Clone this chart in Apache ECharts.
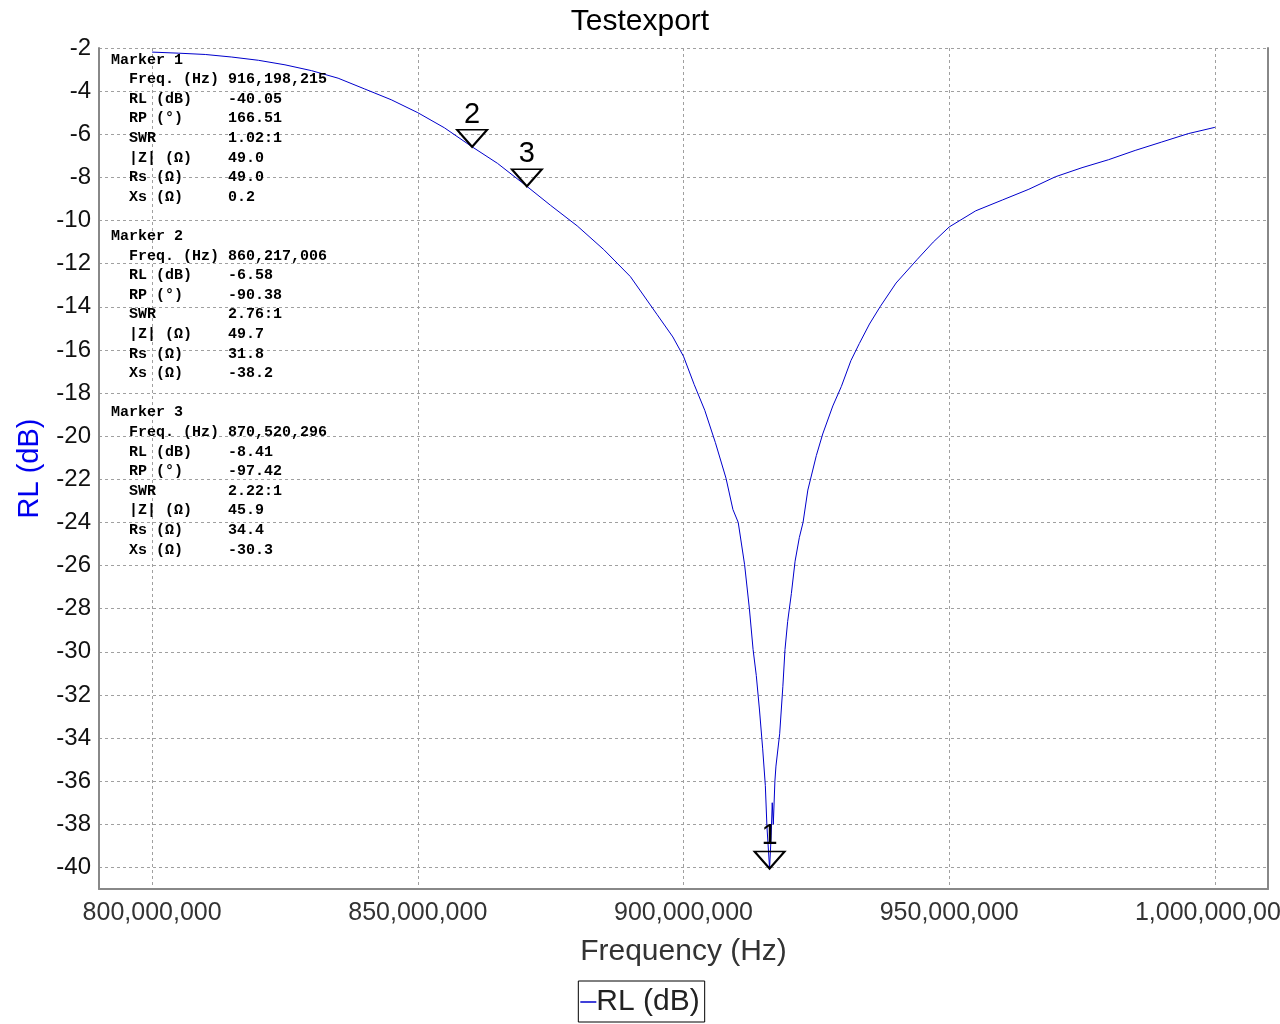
<!DOCTYPE html>
<html>
<head>
<meta charset="utf-8">
<script src="https://cdn.jsdelivr.net/npm/echarts@6/dist/echarts.min.js"></script>
<style>
html,body{margin:0;padding:0;background:#fff;}
#chart{width:1280px;height:1024px;}
</style>
</head>
<body>
<div id="chart"></div>
<script>
// Frequency (Hz) and return loss (dB)
const freqHz = [
  800.0e6, 805.0e6, 810.0e6, 815.0e6, 820.0e6, 825.0e6, 830.0e6, 835.0e6, 840.0e6, 845.0e6,
  850.0e6, 855.0e6, 860.2e6, 865.0e6, 870.5e6, 875.0e6, 880.0e6, 885.0e6, 890.0e6, 895.0e6,
  898.0e6, 900.0e6, 902.0e6, 904.0e6, 906.0e6, 908.0e6, 909.3e6, 910.3e6, 911.5e6, 912.4e6,
  913.1e6, 913.7e6, 914.3e6, 914.9e6, 915.4e6, 915.7e6, 916.2e6, 916.5e6, 916.7e6, 916.9e6,
  917.2e6, 917.4e6, 918.1e6, 918.7e6, 919.1e6, 919.6e6, 920.3e6, 921.0e6, 921.8e6, 922.5e6,
  923.4e6, 925.0e6, 926.2e6, 928.1e6, 929.7e6, 931.5e6, 933.1e6, 935.0e6, 937.0e6, 940.0e6,
  944.0e6, 947.0e6, 950.0e6, 955.0e6, 960.0e6, 965.0e6, 970.0e6, 975.0e6, 980.0e6, 985.0e6,
  990.0e6, 995.0e6, 1000.0e6
];
const rlDb = [
  -2.19, -2.24, -2.30, -2.42, -2.57, -2.78, -3.05, -3.40, -3.90, -4.40,
  -5.00, -5.70, -6.58, -7.35, -8.41, -9.30, -10.25, -11.35, -12.60, -14.35,
  -15.40, -16.30, -17.60, -18.80, -20.30, -21.95, -23.40, -24.00, -25.96, -28.00,
  -29.90, -31.10, -32.70, -34.50, -36.20, -38.10, -40.05, -38.50, -37.00, -38.00,
  -36.00, -35.30, -33.80, -31.60, -29.90, -28.60, -27.30, -25.80, -24.70, -24.00,
  -22.50, -20.90, -19.90, -18.60, -17.70, -16.50, -15.70, -14.80, -14.00, -12.90,
  -11.80, -11.00, -10.30, -9.55, -9.05, -8.55, -7.97, -7.55, -7.18, -6.75,
  -6.36, -5.97, -5.68
];

// Markers
const markerIds  = ['1', '2', '3'];
const markerFreq = [916198215, 860217006, 870520296];
const markerRL   = [-40.05, -6.58, -8.41];
const markerRP   = ['166.51', '-90.38', '-97.42'];
const markerSWR  = ['1.02:1', '2.76:1', '2.22:1'];
const markerZ    = ['49.0', '49.7', '45.9'];
const markerRs   = ['49.0', '31.8', '34.4'];
const markerXs   = ['0.2', '-38.2', '-30.3'];

// Axis tick labels
const xTickLabels = [800e6, 850e6, 900e6, 950e6, 1000e6];

function fmtThousands(n) {
  return String(Math.round(n)).replace(/\B(?=(\d{3})+(?!\d))/g, ',');
}

const lineData = freqHz.map((f, i) => [f, rlDb[i]]);
const markerData = markerFreq.map((f, i) => ({ value: [f, markerRL[i]], name: markerIds[i] }));

let infoLines = [];
for (let i = 0; i < markerIds.length; i++) {
  if (i > 0) infoLines.push('');
  infoLines.push('Marker ' + markerIds[i]);
  infoLines.push('  Freq. (Hz) ' + fmtThousands(markerFreq[i]));
  infoLines.push('  RL (dB)    ' + markerRL[i].toFixed(2));
  infoLines.push('  RP (\u00B0)     ' + markerRP[i]);
  infoLines.push('  SWR        ' + markerSWR[i]);
  infoLines.push('  |Z| (\u03A9)    ' + markerZ[i]);
  infoLines.push('  Rs (\u03A9)     ' + markerRs[i]);
  infoLines.push('  Xs (\u03A9)     ' + markerXs[i]);
}

const chart = echarts.init(document.getElementById('chart'), null, { renderer: 'canvas' });
const FONT = '"Liberation Sans", Arial, sans-serif';

chart.setOption({
  animation: false,
  backgroundColor: '#fff',
  title: {
    text: 'Testexport',
    left: 'center',
    top: 2,
    textStyle: { fontFamily: FONT, fontSize: 30, fontWeight: 'normal', color: '#000' }
  },
  grid: { left: 99, right: 12, top: 48, bottom: 135, containLabel: false, outerBoundsMode: 'none' },
  legend: {
    data: ['RL (dB)'],
    bottom: 2,
    left: 'center',
    borderColor: '#000',
    borderWidth: 1,
    padding: [6, 5, 5, 2],
    icon: 'rect',
    itemWidth: 16,
    itemHeight: 1.5,
    textStyle: { fontFamily: FONT, fontSize: 30, color: '#222', padding: [0, 0, 0, -5] }
  },
  xAxis: {
    type: 'value',
    min: 790e6,
    max: 1010e6,
    splitNumber: 5,
    name: 'Frequency (Hz)',
    nameLocation: 'middle',
    nameGap: 48,
    nameTextStyle: { fontFamily: FONT, fontSize: 30, color: '#333' },
    axisLine: { show: true, onZero: false, lineStyle: { color: '#888', width: 2 } },
    axisTick: { show: false },
    axisLabel: {
      fontFamily: FONT, fontSize: 25, color: '#333', margin: 12,
      showMinLabel: false, showMaxLabel: true,
      formatter: v => xTickLabels.indexOf(v) >= 0 ? fmtThousands(v) : ''
    },
    splitLine: { show: true, lineStyle: { color: '#a0a0a0', type: [3, 3], width: 1 } }
  },
  yAxis: [{
    type: 'value',
    min: -41,
    max: -2,
    splitNumber: 20,
    name: 'RL (dB)',
    nameLocation: 'middle',
    nameGap: 55,
    nameTextStyle: { fontFamily: FONT, fontSize: 29, color: '#0000ee' },
    axisLine: { show: true, onZero: false, lineStyle: { color: '#888', width: 2 } },
    axisTick: { show: false },
    axisLabel: {
      fontFamily: FONT, fontSize: 24, color: '#111', margin: 8,
      formatter: v => (Math.round(v) % 2 === 0) ? String(v) : ''
    },
    splitLine: { show: true, lineStyle: { color: '#a0a0a0', type: [3, 3], width: 1 } }
  }, {
    type: 'value',
    min: -41,
    max: -2,
    position: 'right',
    axisLine: { show: true, onZero: false, lineStyle: { color: '#888', width: 2 } },
    axisTick: { show: false },
    axisLabel: { show: false },
    splitLine: { show: false }
  }],
  series: [{
    name: 'RL (dB)',
    type: 'line',
    data: lineData,
    showSymbol: false,
    symbol: 'none',
    lineStyle: { color: '#0000cc', width: 1 },
    itemStyle: { color: '#0000cc' },
    z: 2
  }, {
    name: 'markers',
    type: 'scatter',
    data: markerData,
    symbol: 'path://M0,0 L30,0 L15,18 Z',
    symbolSize: [30, 17],
    symbolOffset: [0, -8.5],
    itemStyle: { color: 'rgba(0,0,0,0)', borderColor: '#000', borderWidth: 2, opacity: 1 },
    emphasis: { disabled: true },
    label: {
      show: true,
      position: 'top',
      distance: 0,
      formatter: p => p.name,
      fontFamily: FONT, fontSize: 29, color: '#000', opacity: 1
    },
    z: 5
  }],
  graphic: [{
    type: 'text',
    left: 111,
    top: 50,
    z: 10,
    style: {
      text: infoLines.join('\n'),
      font: 'bold 15px "Liberation Mono", "Courier New", monospace',
      lineHeight: 19.6,
      fill: '#000'
    }
  }]
});
</script>
</body>
</html>
